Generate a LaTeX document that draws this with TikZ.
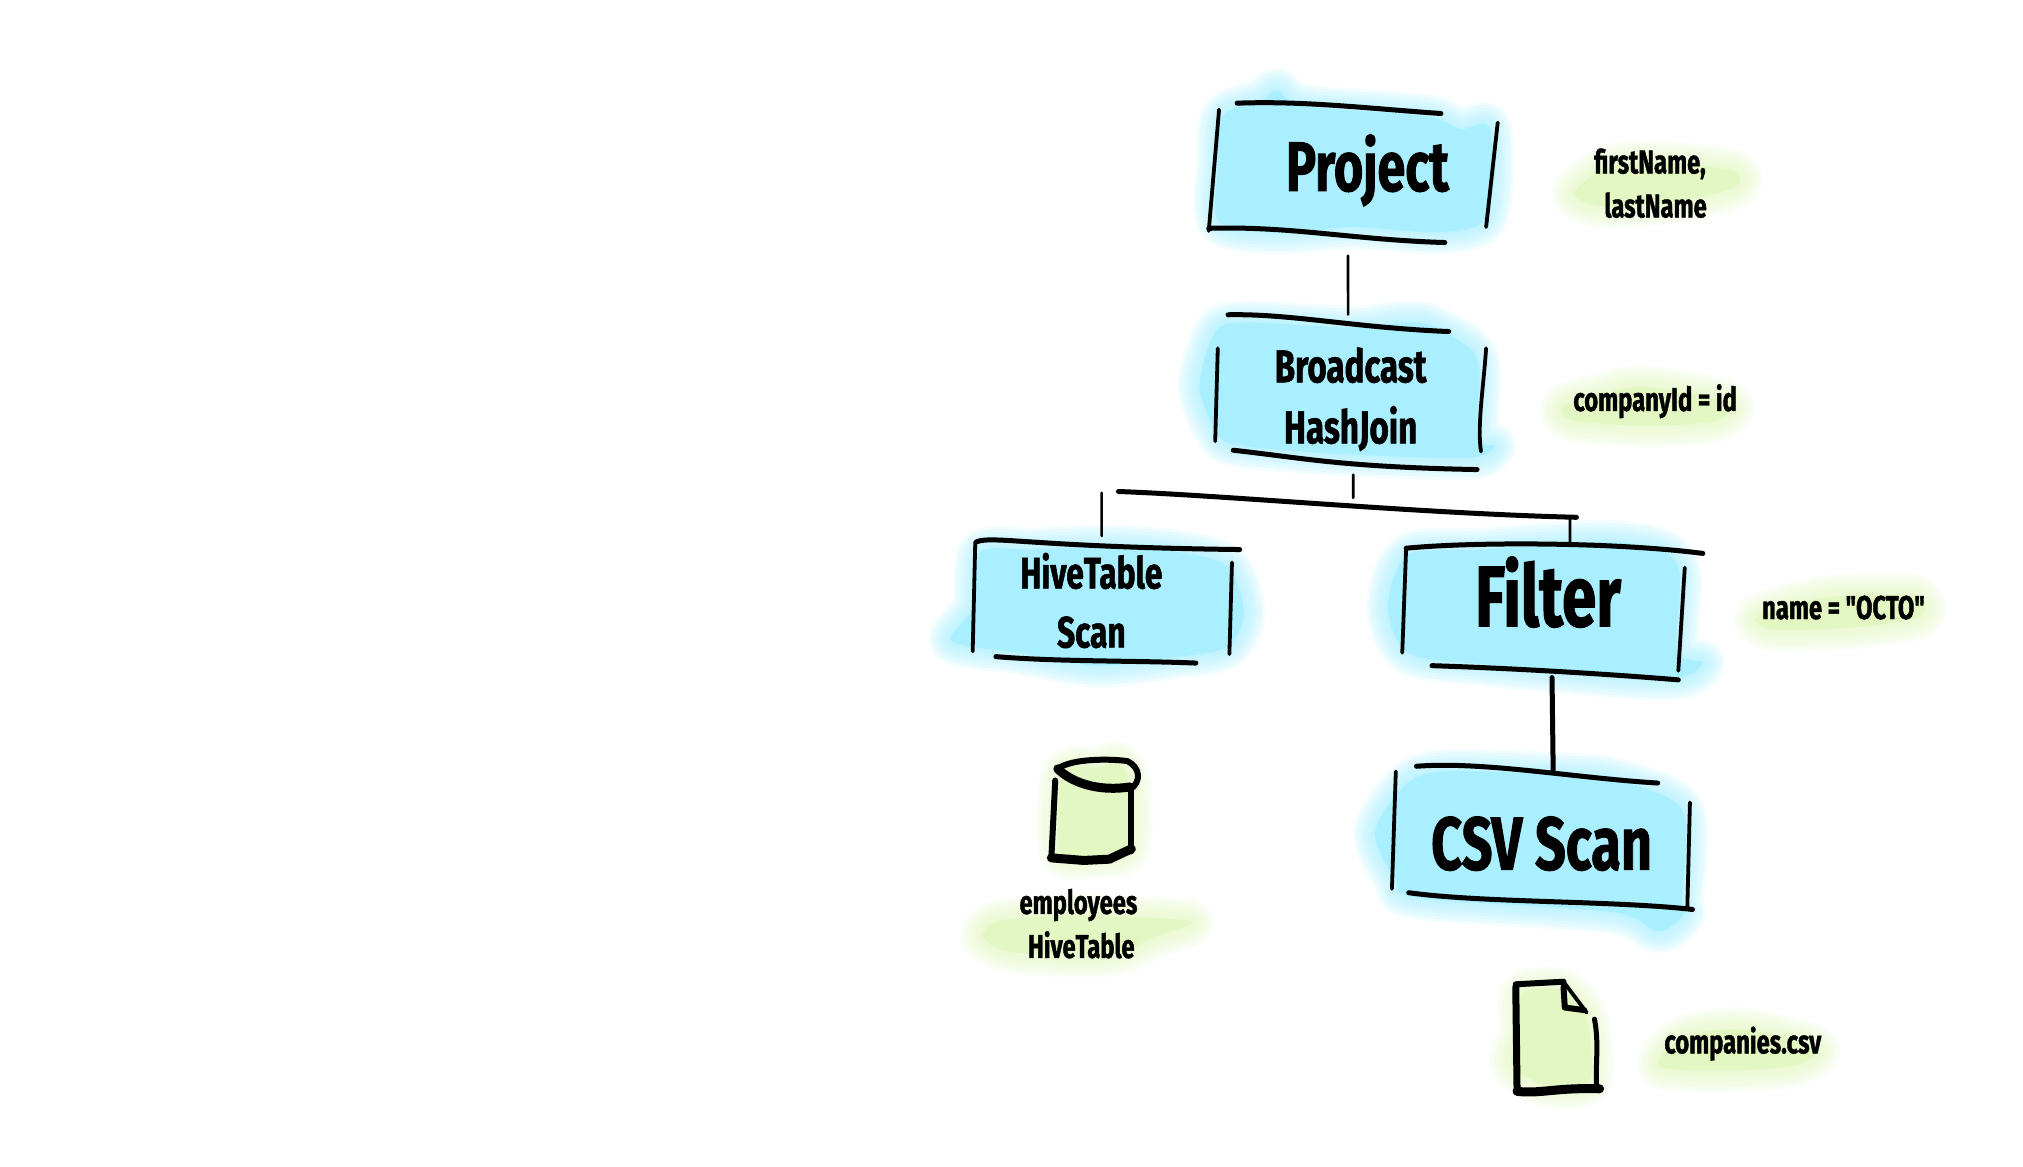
\documentclass[tikz,border=0pt]{standalone}
\usepackage{fontspec}
\usepackage{xcolor}
\usetikzlibrary{positioning}
\newfontfamily\sketchfont[FakeStretch=.72,BoldFeatures={FakeBold=1.2}]{Fira Sans}
\definecolor{opblue}{HTML}{A9EFFF}
\definecolor{notegreen}{HTML}{E3F7C3}
% soft edge: same closed outline stroked wider and wider under a solid core
\newcommand{\softblob}[2]{%
  \foreach \w in {44,38,32,26,20,14,8,4} {\draw [#1,opacity=.15,line width=\w pt,line join=round] plot [smooth cycle,tension=.5] coordinates {#2};}
  \fill [#1] plot [smooth cycle,tension=.5] coordinates {#2};}
\tikzset{
  opbig/.style={font=\sketchfont\bfseries\fontsize{75}{75}\selectfont,inner sep=0,outer sep=0,anchor=center},
  opsmall/.style={font=\sketchfont\bfseries\fontsize{46}{61}\selectfont,align=center,inner sep=0,outer sep=0},
  notetext/.style={font=\sketchfont\bfseries\fontsize{33}{44}\selectfont,align=center,inner sep=0,outer sep=0},
  pen/.style={line width=5pt,line cap=round,line join=round,black},
  sidepen/.style={line width=3.8pt,line cap=round,line join=round,black},
  thinpen/.style={line width=2.6pt,line cap=round,black},
  heavypen/.style={line width=9pt,line cap=round,line join=round,black}
}
\begin{document}
\begin{tikzpicture}[x=1.29pt,y=-1.29pt]
  \useasboundingbox (0,0) rectangle (1568.2,903.9);
  % blue and green washes
  \softblob{opblue}{(948,90) (978,78) (990,70) (1010,82) (1105,90) (1132,100) (1155,100) (1152,168) (1115,180) (1050,176) (990,180) (945,172) (944,130)}
  \softblob{opblue}{(942,258) (965,250) (1050,254) (1090,250) (1112,254) (1145,278) (1145,338) (1158,346) (1138,355) (1040,352) (965,346) (945,338) (930,300)}
  \softblob{opblue}{(760,428) (800,426) (850,424) (900,426) (950,438) (964,475) (950,502) (905,510) (850,516) (790,506) (738,497) (755,470)}
  \softblob{opblue}{(1092,430) (1150,426) (1240,420) (1285,426) (1302,444) (1300,505) (1320,514) (1290,526) (1150,515) (1092,506) (1076,470)}
  \softblob{opblue}{(1090,608) (1120,598) (1200,600) (1250,604) (1304,628) (1304,696) (1304,710) (1285,722) (1250,707) (1100,696) (1082,682) (1066,645)}
  \softblob{notegreen}{(1245,130) (1280,126) (1342,132) (1345,145) (1300,156) (1243,160) (1220,150)}
  \softblob{notegreen}{(1245,305) (1275,300) (1340,312) (1330,326) (1280,330) (1220,326) (1212,315)}
  \softblob{notegreen}{(1400,466) (1430,462) (1484,462) (1488,478) (1440,486) (1375,488) (1362,478)}
  \softblob{notegreen}{(775,714) (830,710) (922,714) (895,726) (860,740) (785,738) (762,726)}
  \softblob{notegreen}{(1305,804) (1350,798) (1408,812) (1390,826) (1330,830) (1286,826)}
  \softblob{notegreen}{(824,600) (850,595) (868,592) (876,612) (874,658) (850,664) (822,660)}
  \softblob{notegreen}{(1180,770) (1212,768) (1230,790) (1232,838) (1200,842) (1172,825) (1178,800)}

  % operators, centred on their text
  \node [opbig,font=\sketchfont\bfseries\fontsize{70}{70}\selectfont,minimum height=168pt] (project) at (1060,132) {Project};
  \node [opsmall,minimum height=172pt] (broadcast) at (1047,309.5) {Broadcast\\HashJoin};
  \node [opsmall,font=\sketchfont\bfseries\fontsize{44}{59}\selectfont,minimum height=134pt] (hivescan) at (846,465.5) {HiveTable\\Scan};
  \node [opbig,font=\sketchfont\bfseries\fontsize{86}{86}\selectfont,minimum height=111pt] (filter) at (1200,459) {Filter};
  \node [opbig,minimum height=150pt] (csvscan) at (1195,654) {CSV Scan};

  % notes
  \node [notetext] (fields) at (1279,142) {firstName,\\\ \ lastName};
  \node [notetext] (joinkey) at (1283,311) {companyId = id};
  \node [notetext] (predicate) at (1429,471) {name = "OCTO"};
  \node [notetext] (hivetable) at (836,716) {employees\\\ HiveTable};
  \node [notetext] (csvfile) at (1351,809) {companies.csv};

  % project box
  \draw [pen] (959,80) .. controls (1010,78) and (1060,84) .. (1117,88);
  \draw [sidepen] (945,85) -- (937,179);
  \draw [sidepen] (1161,95) -- (1152,176);
  \draw [pen] (937,177) .. controls (1000,175) and (1050,186) .. (1120,188);
  % broadcast box
  \draw [pen] (952,244) .. controls (1000,243) and (1050,254) .. (1123,257);
  \draw [sidepen] (944,270) -- (942,342);
  \draw [sidepen] (1152,270) .. controls (1150,300) and (1145,330) .. (1148,350);
  \draw [pen] (956,349) .. controls (1010,355) and (1040,362) .. (1145,364);
  % hive scan box
  \draw [pen] (757,420) .. controls (770,415) and (800,424) .. (961,426);
  \draw [sidepen] (756,420) -- (754,505);
  \draw [sidepen] (955,436) -- (953,507);
  \draw [pen] (772,509) .. controls (820,513) and (880,512) .. (927,514);
  % filter box
  \draw [pen] (1090,425) .. controls (1140,420) and (1250,420) .. (1320,429);
  \draw [sidepen] (1090,425) -- (1087,506);
  \draw [sidepen] (1306,440) -- (1301,520);
  \draw [pen] (1110,516) .. controls (1170,518) and (1240,522) .. (1301,527);
  % csv scan box
  \draw [pen] (1098,594) .. controls (1150,590) and (1220,603) .. (1285,607);
  \draw [sidepen] (1082,598) -- (1079,689);
  \draw [sidepen] (1310,622) -- (1308,703);
  \draw [pen] (1092,692) .. controls (1150,700) and (1250,698) .. (1312,705);

  % tree bar
  \coordinate (barleft) at (867,381);
  \coordinate (barright) at (1222,401);
  \coordinate (barmid) at (1049,386);
  \coordinate (hivetop) at (854,382);
  \coordinate (filtertop) at (1217,401);
  \draw [pen] (barleft) .. controls (950,384) and (1100,398) .. (barright);
  \draw [thinpen] ([xshift=-19.4pt,yshift=-1.3pt]project.south) -- ([xshift=-2.6pt,yshift=-1.3pt]broadcast.north);
  \draw [thinpen] ([xshift=2.6pt,yshift=10.7pt]broadcast.south) -- (barmid);
  \draw [thinpen] (hivetop) -- ([xshift=10.3pt,yshift=-2.6pt]hivescan.north);
  \draw [thinpen] (filtertop) -- ([xshift=22pt,yshift=-5pt]filter.north);
  \draw [pen] ([xshift=4pt,yshift=-30pt]filter.south) -- ([xshift=11.6pt,yshift=-1.3pt]csvscan.north);

  % table icon
  \draw [heavypen,line width=6pt] (820,596) .. controls (830,588) and (860,588) .. (874,590) .. controls (884,595) and (885,606) .. (876,612);
  \draw [heavypen] (820,596) .. controls (830,606) and (850,614) .. (876,610);
  \draw [heavypen,line width=6pt] (818,605) -- (815,665);
  \draw [heavypen] (815,665) -- (840,667) -- (860,666) -- (877,658);
  \draw [heavypen,line width=6pt] (877,612) -- (877,660);
  % file icon
  \draw [heavypen,line width=7pt] (1176,846) -- (1175,765);
  \draw [heavypen,line width=6pt] (1175,763) -- (1212,761);
  \draw [sidepen] (1212,761) -- (1230,785);
  \draw [heavypen,line width=5pt] (1236,790) .. controls (1240,810) and (1236,830) .. (1238,845);
  \draw [heavypen,line width=6pt] (1212,765) -- (1213,781) -- (1228,783);
  \draw [heavypen] (1176,846) .. controls (1195,848) and (1205,843) .. (1240,844);
\end{tikzpicture}
\end{document}
